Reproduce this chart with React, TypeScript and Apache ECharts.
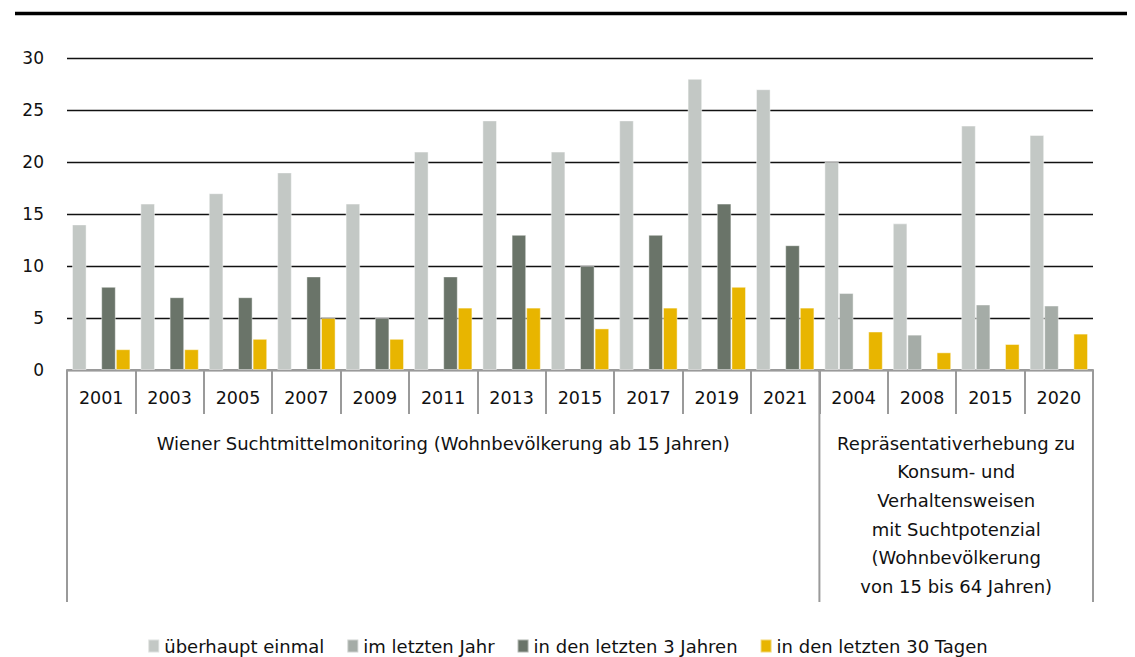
import React, { useEffect, useRef } from "react";
import * as echarts from "echarts";

// Survey years (first 11: Wiener Suchtmittelmonitoring, last 4: Repräsentativerhebung)
const categories = [
  "2001", "2003", "2005", "2007", "2009", "2011", "2013", "2015", "2017", "2019", "2021",
  "2004", "2008", "2015 ", "2020",
];

const seriesNames = [
  "überhaupt einmal",
  "im letzten Jahr",
  "in den letzten 3 Jahren",
  "in den letzten 30 Tagen",
];

const everUsed = [14, 16, 17, 19, 16, 21, 24, 21, 24, 28, 27, 20.0, 14.1, 23.5, 22.6];
const lastYear = [null, null, null, null, null, null, null, null, null, null, null, 7.4, 3.4, 6.3, 6.2];
const last3Years = [8, 7, 7, 9, 5, 9, 13, 10, 13, 16, 12, null, null, null, null];
const last30Days = [2, 2, 3, 5, 3, 6, 6, 4, 6, 8, 6, 3.7, 1.7, 2.5, 3.5];

const yTicks = { min: 0, max: 30, interval: 5 };

const groupLeftLabel = "Wiener Suchtmittelmonitoring (Wohnbevölkerung ab 15 Jahren)";
const groupRightLabel = [
  "Repräsentativerhebung zu",
  "Konsum- und",
  "Verhaltensweisen",
  "mit Suchtpotenzial",
  "(Wohnbevölkerung",
  "von 15 bis 64 Jahren)",
];
const groupSplitIndex = 11;

const colors = ["#c3c8c5", "#a5aca7", "#6a7469", "#e8b500"];
const FONT = "'DejaVu Sans', sans-serif";

const GRID_LEFT = 67;
const GRID_RIGHT = 42;
const GRID_TOP = 58;
const GRID_BOTTOM = 287;
const W = 1135;
const H = 657;

export default function App() {
  const ref = useRef<HTMLDivElement>(null);

  useEffect(() => {
    if (!ref.current) return;
    const chart = echarts.init(ref.current, undefined, { renderer: "svg" });

    const plotW = W - GRID_LEFT - GRID_RIGHT;
    const catW = plotW / categories.length;
    const xSplit = GRID_LEFT + catW * groupSplitIndex;
    const xRight = GRID_LEFT + plotW;
    const axisY = H - GRID_BOTTOM;
    const frameBottom = 602;
    const frameStyle = { stroke: "#9a9a9a", lineWidth: 2 };

    const dataSets = [everUsed, lastYear, last3Years, last30Days];

    chart.setOption({
      animation: false,
      color: colors,
      textStyle: { fontFamily: FONT },
      grid: { left: GRID_LEFT, right: GRID_RIGHT, top: GRID_TOP, bottom: GRID_BOTTOM },
      legend: {
        bottom: -3,
        left: "center",
        icon: "rect",
        itemWidth: 11,
        itemHeight: 13,
        itemGap: 22,
        textStyle: { fontFamily: FONT, fontSize: 18, color: "#111" },
        data: seriesNames,
      },
      xAxis: {
        type: "category",
        data: categories,
        axisLine: { lineStyle: { color: "#9a9a9a", width: 2 } },
        axisTick: {
          show: true,
          interval: 0,
          length: 44,
          lineStyle: { color: "#9a9a9a", width: 2 },
        },
        axisLabel: {
          interval: 0,
          margin: 19,
          fontSize: 17.5,
          color: "#111",
          fontFamily: FONT,
          formatter: (v: string) => v.trim(),
        },
      },
      yAxis: {
        type: "value",
        min: yTicks.min,
        max: yTicks.max,
        interval: yTicks.interval,
        axisLine: { show: false },
        axisTick: { show: false },
        axisLabel: { fontSize: 17, color: "#111", margin: 23, fontFamily: FONT },
        splitLine: { lineStyle: { color: "#111", width: 1.3 } },
      },
      series: seriesNames.map((name, i) => ({
        name,
        type: "bar",
        data: dataSets[i],
        barGap: "0%",
        barCategoryGap: "14.6%",
        itemStyle: {
          color: colors[i],
          borderColor: "rgba(255,255,255,0.45)",
          borderWidth: 1,
        },
      })),
      graphic: [
        {
          type: "line",
          shape: { x1: 15, y1: 13.5, x2: W, y2: 13.5 },
          style: { stroke: "#000", lineWidth: 3.5 },
        },
        {
          type: "line",
          shape: { x1: GRID_LEFT, y1: axisY, x2: GRID_LEFT, y2: frameBottom },
          style: frameStyle,
        },
        {
          type: "line",
          shape: { x1: xSplit, y1: axisY, x2: xSplit, y2: frameBottom },
          style: frameStyle,
        },
        {
          type: "line",
          shape: { x1: xRight, y1: axisY, x2: xRight, y2: frameBottom },
          style: frameStyle,
        },
        {
          type: "text",
          x: (GRID_LEFT + xSplit) / 2,
          y: 443,
          style: {
            text: groupLeftLabel,
            fontSize: 18,
            fontFamily: FONT,
            fill: "#111",
            align: "center",
            verticalAlign: "middle",
          },
        },
        {
          type: "text",
          x: (xSplit + xRight) / 2,
          y: 429,
          style: {
            text: groupRightLabel.join("\n"),
            fontSize: 18,
            lineHeight: 28.6,
            fontFamily: FONT,
            fill: "#111",
            align: "center",
            verticalAlign: "top",
          },
        },
      ],
    });

    return () => chart.dispose();
  }, []);

  return <div ref={ref} style={{ width: W, height: H, marginLeft: -8, marginTop: -8 }} />;
}
